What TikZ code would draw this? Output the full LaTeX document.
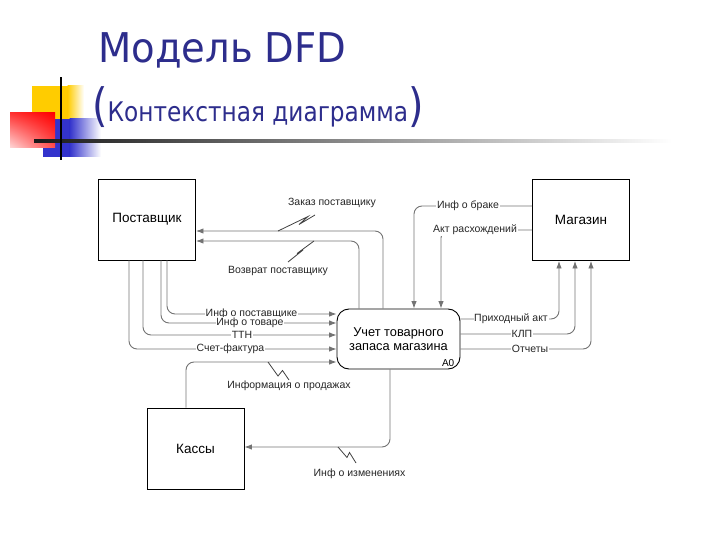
\documentclass[tikz,border=0pt]{standalone}
\usepackage{fontspec}
\setmainfont{Liberation Sans}
\newfontfamily\titlefont{DejaVu Sans}[FakeStretch=0.94]
\newfontfamily\subfont{DejaVu Sans}[FakeStretch=0.86]
\usetikzlibrary{arrows.meta,shadings}
\definecolor{titleblue}{RGB}{45,45,140}
\definecolor{flowgray}{RGB}{115,115,115}
\definecolor{decoyellow}{RGB}{255,204,0}
\definecolor{decoblue}{RGB}{51,51,204}
\tikzset{
  box/.style={draw=black, line width=0.9pt, fill=white, minimum width=97pt, minimum height=81pt, inner sep=0pt, font=\fontsize{13.5}{15}\selectfont},
  procbox/.style={draw=black, line width=0.9pt, fill=white, rounded corners=12pt, minimum width=123pt, minimum height=60pt, align=center, font=\fontsize{12.8}{14}\selectfont},
  flow/.style={draw=flowgray, line width=0.9pt, rounded corners=8pt, -{Latex[length=7.5pt,width=5.5pt]}},
  lab/.style={fill=white, inner sep=0.7pt, text=black!85, font=\fontsize{10.5}{12}\selectfont},
  zig/.style={draw=black!75, line width=0.8pt, line join=miter}
}
\begin{document}
\begin{tikzpicture}[x=1pt,y=-1pt]
\useasboundingbox (0,0) rectangle (720,540);
% decoration
\fill[decoyellow] (32,86) rectangle (68,120);
\shade[left color=decoyellow, right color=white] (67.5,86) rectangle (84,120);
\fill[decoblue] (43,119) rectangle (70,157);
\shade[left color=decoblue, right color=white] (69.5,119) rectangle (101,157);
\shade[upper left=red!80!white, upper right=red, lower left=red!15!white, lower right=red!70!white] (10,113) rectangle (55,148);
\shade[left color=black!90, right color=white] (34,140) rectangle (672,142.5);
\fill[black] (60,77) rectangle (62,160);
% title
\node[anchor=base west, inner sep=0pt, text=titleblue, font=\titlefont\fontsize{41}{41}\selectfont] (t1) at (98,63) {Модель DFD};
\node[anchor=base west, inner sep=0pt, text=titleblue, font=\subfont] (t2) at (92,122) {{\fontsize{46}{46}\selectfont(}\fontsize{27}{28}\selectfont Контекстная диаграмма{\fontsize{46}{46}\selectfont)}};
% boxes
\node[box] (sup) at (147,219.5) {Поставщик};
\node[box] (mag) at (581,220) {Магазин};
\node[box] (kas) at (195.5,448.5) {Кассы};
\node[procbox] (proc) at (398.5,339) {Учет товарного\\запаса магазина};
\node[anchor=base east, inner sep=0pt, font=\fontsize{10}{12}\selectfont] (a0) at (454.5,366) {A0};
% flows to supplier
\draw[flow] (383,0 |- proc.north) |- (sup.east |- 0,231);
\draw[flow] (359,0 |- proc.north) |- (sup.east |- 0,241);
% flows from supplier
\draw[flow] (167,0 |- sup.south) |- (proc.west |- 0,314);
\draw[flow] (161,0 |- sup.south) |- (proc.west |- 0,323);
\draw[flow] (143,0 |- sup.south) |- (proc.west |- 0,335);
\draw[flow] (129,0 |- sup.south) |- (proc.west |- 0,349);
% cash
\draw[flow] (186,0 |- kas.north) |- (proc.west |- 0,362);
\draw[flow] (390,0 |- proc.south) |- (kas.east |- 0,447);
% shop
\draw[flow] (mag.west |- 0,206) -| (414,0 |- proc.north);
\draw[flow] (mag.west |- 0,230) -| (441,0 |- proc.north);
\draw[flow] (proc.east |- 0,319) -| (559,0 |- mag.south);
\draw[flow] (proc.east |- 0,334) -| (575,0 |- mag.south);
\draw[flow] (proc.east |- 0,349) -| (591,0 |- mag.south);
% labels
\node[lab] (lzak) at (332,203) {Заказ поставщику};
\node[lab] (lvoz) at (278,271) {Возврат поставщику};
\node[lab] (lips) at (251.5,314) {Инф о поставщике};
\node[lab] (lit) at (250,323) {Инф о товаре};
\node[lab] (lttn) at (242,335) {ТТН};
\node[lab] (lsf) at (230.5,349) {Счет-фактура};
\node[lab] (lprod) at (289,386) {Информация о продажах};
\node[lab] (lizm) at (359.5,474) {Инф о изменениях};
\node[lab] (lbr) at (468,206) {Инф о браке};
\node[lab] (lakt) at (475,230) {Акт расхождений};
\node[lab] (lpa) at (511,319) {Приходный акт};
\node[lab] (lklp) at (522,334) {КЛП};
\node[lab] (lotc) at (530,349) {Отчеты};
% squiggles
\draw[zig] (278,231) -- (308,216.5) -- (299,224.5) -- (315,215);
\draw[zig] (314,241) -- (297,253.5) -- (303,250) -- (288,262);
\draw[zig] (268,362) -- (278,376) -- (282.5,370.5) -- (289,380);
\draw[zig] (338,447) -- (347,457.5) -- (349.5,452.5) -- (356,463);
\end{tikzpicture}
\end{document}
